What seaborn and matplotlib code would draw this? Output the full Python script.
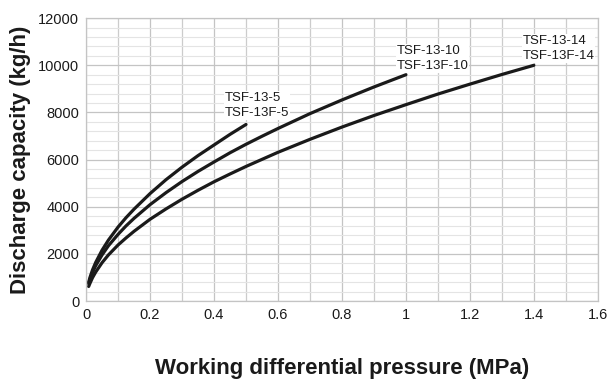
"""
plot.py

Discharge capacity vs. working differential pressure for TSF-13 steam traps.
"""

import numpy as np
import pandas as pd
import matplotlib
matplotlib.use("Agg")
import matplotlib.pyplot as plt
from matplotlib.ticker import MultipleLocator, FuncFormatter
import seaborn as sns

# values
pressure_5 = [0.008, 0.012, 0.02, 0.03, 0.05, 0.07, 0.1, 0.125, 0.15, 0.2,
              0.25, 0.3, 0.35, 0.4, 0.45, 0.5]
capacity_5 = [800, 1000, 1320, 1640, 2160, 2590, 3140, 3540, 3900, 4560,
              5150, 5680, 6170, 6620, 7070, 7490]

pressure_10 = [0.008, 0.012, 0.02, 0.03, 0.05, 0.07, 0.1, 0.125, 0.15, 0.2,
               0.25, 0.3, 0.35, 0.4, 0.45, 0.5, 0.55, 0.6, 0.7, 0.8, 0.9, 1.0]
capacity_10 = [740, 920, 1210, 1500, 1960, 2350, 2830, 3190, 3510, 4090,
               4600, 5070, 5500, 5900, 6290, 6650, 6990, 7320, 7950, 8530, 9080, 9600]

pressure_14 = [0.008, 0.012, 0.02, 0.03, 0.05, 0.07, 0.1, 0.125, 0.15, 0.2,
               0.25, 0.3, 0.35, 0.4, 0.45, 0.5, 0.6, 0.7, 0.8, 0.9, 1.0,
               1.1, 1.2, 1.3, 1.4]
capacity_14 = [620, 750, 990, 1230, 1630, 1960, 2380, 2680, 2960, 3470,
               3910, 4320, 4700, 5060, 5390, 5710, 6310, 6860, 7380, 7870, 8330,
               8780, 9200, 9610, 10000]

models = ["TSF-13-5\nTSF-13F-5", "TSF-13-10\nTSF-13F-10", "TSF-13-14\nTSF-13F-14"]
label_x = [0.434, 0.972, 1.366]
label_y = [8290, 10285, 10710]

df = pd.concat([
    pd.DataFrame({"pressure": pressure_5, "capacity": capacity_5, "model": models[0]}),
    pd.DataFrame({"pressure": pressure_10, "capacity": capacity_10, "model": models[1]}),
    pd.DataFrame({"pressure": pressure_14, "capacity": capacity_14, "model": models[2]}),
])

sns.set_theme(style="white")
plt.rcParams["font.family"] = ["Liberation Sans", "DejaVu Sans"]

fig = plt.figure(figsize=(6.15, 3.86), dpi=100)
ax = fig.add_axes([0.14, 0.22, 0.832, 0.733])

sns.lineplot(data=df, x="pressure", y="capacity", hue="model",
             palette=["#1a1a1a"] * 3, linewidth=2.3, legend=False,
             sort=False, ax=ax)
for line in ax.lines:
    line.set_solid_joinstyle("round")
    line.set_solid_capstyle("round")

for txt, lx, ly in zip(models, label_x, label_y):
    ax.text(lx, ly, txt, fontsize=9.5, color="#1a1a1a", ha="left", va="center",
            linespacing=1.35,
            bbox=dict(facecolor="white", edgecolor="none", pad=0.5))

ax.set_xlim(0, 1.6)
ax.set_ylim(0, 12000)
ax.xaxis.set_major_locator(MultipleLocator(0.2))
ax.xaxis.set_minor_locator(MultipleLocator(0.1))
ax.yaxis.set_major_locator(MultipleLocator(2000))
ax.yaxis.set_minor_locator(MultipleLocator(400))
ax.xaxis.set_major_formatter(FuncFormatter(lambda v, p: f"{v:g}"))
ax.yaxis.set_major_formatter(FuncFormatter(lambda v, p: f"{v:.0f}"))

ax.grid(which="major", color="#c4c4c4", linewidth=0.9)
ax.grid(which="minor", color="#e4e4e4", linewidth=0.8)
ax.grid(which="minor", axis="x", color="#cccccc", linewidth=0.9)
ax.set_axisbelow(True)
for s in ax.spines.values():
    s.set_color("#c4c4c4")
    s.set_linewidth(0.9)

ax.tick_params(axis="both", which="both", length=0, labelsize=10.5, colors="#1a1a1a", pad=5)

ax.set_xlabel("Working differential pressure (MPa)", fontsize=16, fontweight="bold", color="#1a1a1a")
ax.set_ylabel("Discharge capacity (kg/h)", fontsize=16, fontweight="bold", color="#1a1a1a")
ax.xaxis.set_label_coords(0.5, -0.2)
ax.yaxis.set_label_coords(-0.108, 0.498)

fig.savefig("out.png", dpi=100)
